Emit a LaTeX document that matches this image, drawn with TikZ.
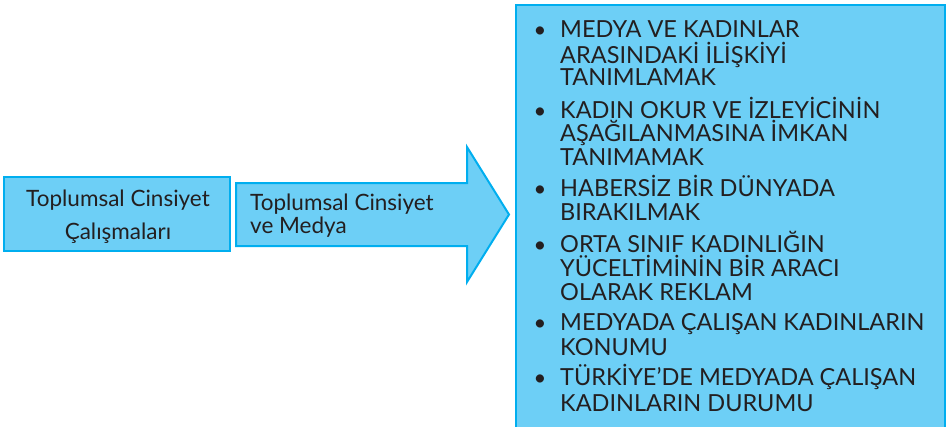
\documentclass[tikz,border=0pt]{standalone}
\usepackage{fontspec}
\setmainfont{Lato}
\definecolor{boxfill}{HTML}{6DCFF6}
\definecolor{boxline}{HTML}{00AEEF}
\definecolor{ink}{HTML}{231F20}
\begin{document}
\begin{tikzpicture}[x=1pt,y=-1pt,
  shapebox/.style={fill=boxfill,draw=boxline,line width=2pt},
  lbl/.style={inner sep=0pt,text=ink,font=\fontsize{22.5}{27}\selectfont},
  item/.style={inner sep=0pt,text=ink,anchor=base west,font=\fontsize{23.5}{27}\selectfont},
  dot/.style={inner sep=0pt,text=ink,anchor=base,font=\fontsize{22}{27}\selectfont}]
\useasboundingbox (0,0) rectangle (948,426);
\begin{scope}
\clip (0,0) rectangle (948,426);
% left box
\draw[shapebox] (4,177) rectangle (230,251);
\node[lbl,anchor=base] (t1) at (118,206.5) {Toplumsal Cinsiyet};
\node[lbl,anchor=base] (t2) at (118,239) {Çalışmaları};
% arrow
\draw[shapebox,line join=miter] (236,183) -- (467,183) -- (467,147) -- (509,214.5) -- (467,282) -- (467,246) -- (236,246) -- cycle;
\node[lbl,anchor=base west] (a1) at (250,210) {Toplumsal Cinsiyet};
\node[lbl,anchor=base west] (a2) at (250,233) {ve Medya};
% right box
\draw[shapebox] (516,5) rectangle (945,432);
\end{scope}
\node[item] (l1) at (560,37.7) {MEDYA VE KADINLAR};
\node[item] (l2) at (560,63) {ARASINDAKİ İLİŞKİYİ};
\node[item] (l3) at (560,85.5) {TANIMLAMAK};
\node[item] (l4) at (560,118) {KADIN OKUR VE İZLEYİCİNİN};
\node[item] (l5) at (560,141) {AŞAĞILANMASINA İMKAN};
\node[item] (l6) at (560,165.7) {TANIMAMAK};
\node[item] (l7) at (560,196) {HABERSİZ BİR DÜNYADA};
\node[item] (l8) at (560,220) {BIRAKILMAK};
\node[item] (l9) at (560,252.7) {ORTA SINIF KADINLIĞIN};
\node[item] (l10) at (560,276.7) {YÜCELTİMİNİN BİR ARACI};
\node[item] (l11) at (560,300.7) {OLARAK REKLAM};
\node[item] (l12) at (560,330.7) {MEDYADA ÇALIŞAN KADINLARIN};
\node[item] (l13) at (560,355.7) {KONUMU};
\node[item] (l14) at (560,385.7) {TÜRKİYE’DE MEDYADA ÇALIŞAN};
\node[item] (l15) at (560,411.7) {KADINLARIN DURUMU};
\foreach \y/\n in {37.7/1,118/2,196/3,252.7/4,330.7/5,385.7/6}
  \node[dot] (b\n) at (540,\y) {•};
\end{tikzpicture}
\end{document}
